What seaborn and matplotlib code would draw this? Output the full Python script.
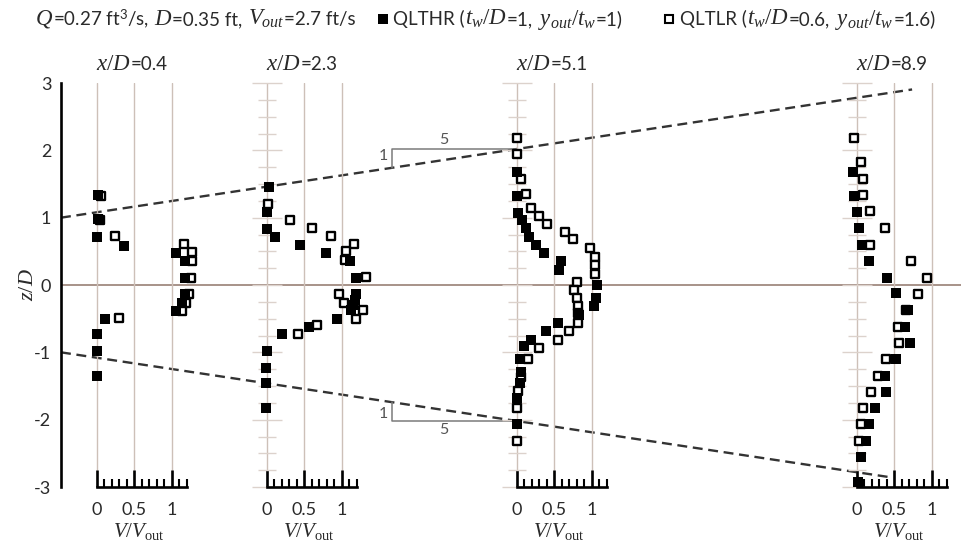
import matplotlib
matplotlib.use("Agg")
import matplotlib.pyplot as plt
import numpy as np
import pandas as pd
import seaborn as sns
from matplotlib.ticker import MultipleLocator, FixedLocator, NullLocator
from matplotlib.lines import Line2D

# ---------------------------------------------------------------- data
stations = [0.4, 2.3, 5.1, 8.9]          # x/D of each velocity profile
station_labels = ["0.4", "2.3", "5.1", "8.9"]

# QLTHR (filled squares): z/D and V/Vout per station
thr_z_04 = [1.34, 0.98, 0.72, 0.58, 0.48, 0.36, 0.11, -0.13, -0.26, -0.38, -0.50, -0.73, -0.98, -1.35]
thr_v_04 = [0.02, 0.02, 0.00, 0.36, 1.06, 1.17, 1.17, 1.18, 1.13, 1.05, 0.11, 0.00, 0.00, 0.00]

thr_z_23 = [1.46, 1.09, 0.83, 0.72, 0.59, 0.48, 0.36, 0.11, -0.13, -0.23, -0.30, -0.37,
            -0.50, -0.62, -0.73, -0.98, -1.23, -1.46, -1.82]
thr_v_23 = [0.03, 0.00, 0.00, 0.11, 0.45, 0.79, 1.11, 1.19, 1.19, 1.18, 1.15, 1.12,
            0.94, 0.56, 0.20, 0.00, -0.01, -0.01, -0.01]

thr_z_51 = [1.68, 1.32, 1.07, 0.97, 0.84, 0.72, 0.59, 0.47, 0.36, 0.23, 0.00, -0.20, -0.31,
            -0.44, -0.56, -0.68, -0.81, -0.91, -1.10, -1.29, -1.46, -1.68, -2.07]
thr_v_51 = [0.00, 0.00, 0.02, 0.07, 0.12, 0.16, 0.26, 0.36, 0.59, 0.56, 1.07, 1.06, 1.03,
            0.83, 0.55, 0.39, 0.19, 0.10, 0.04, 0.06, 0.04, 0.00, 0.00]

thr_z_89 = [1.68, 1.32, 1.08, 0.85, 0.60, 0.36, 0.11, -0.12, -0.37, -0.62, -0.86, -1.10,
            -1.35, -1.59, -1.82, -2.07, -2.31, -2.56, -2.92]
thr_v_89 = [-0.05, -0.03, 0.01, 0.03, 0.07, 0.17, 0.41, 0.53, 0.68, 0.65, 0.71, 0.52,
            0.38, 0.39, 0.25, 0.17, 0.13, 0.06, 0.02]

# QLTLR (open squares)
tlr_z_04 = [1.32, 0.97, 0.73, 0.61, 0.49, 0.36, 0.11, -0.13, -0.26, -0.38, -0.49]
tlr_v_04 = [0.05, 0.04, 0.24, 1.16, 1.27, 1.27, 1.25, 1.23, 1.19, 1.14, 0.30]

tlr_z_23 = [1.21, 0.97, 0.84, 0.73, 0.61, 0.50, 0.37, 0.12, -0.13, -0.26, -0.37, -0.50, -0.60, -0.73]
tlr_v_23 = [0.02, 0.31, 0.60, 0.86, 1.17, 1.06, 1.04, 1.32, 0.97, 1.03, 1.29, 1.19, 0.67, 0.42]

tlr_z_51 = [2.19, 1.95, 1.57, 1.35, 1.15, 1.03, 0.91, 0.78, 0.68, 0.55, 0.42, 0.30, 0.17, 0.05,
            -0.08, -0.20, -0.31, -0.42, -0.56, -0.68, -0.81, -0.93, -1.10, -1.36, -1.58, -1.82, -2.32]
tlr_v_51 = [0.00, 0.00, 0.06, 0.12, 0.19, 0.29, 0.40, 0.64, 0.75, 0.97, 1.04, 1.04, 1.04, 0.80,
            0.76, 0.80, 0.81, 0.82, 0.81, 0.70, 0.55, 0.30, 0.15, 0.05, 0.02, 0.00, 0.00]

tlr_z_89 = [2.18, 1.82, 1.58, 1.33, 1.10, 0.85, 0.60, 0.36, 0.11, -0.13, -0.37, -0.62, -0.86,
            -1.10, -1.35, -1.59, -1.82, -2.07, -2.31]
tlr_v_89 = [-0.04, 0.06, 0.08, 0.09, 0.18, 0.38, 0.18, 0.73, 0.94, 0.82, 0.66, 0.55, 0.57,
            0.39, 0.28, 0.19, 0.08, 0.06, 0.03]

thr_z = [thr_z_04, thr_z_23, thr_z_51, thr_z_89]
thr_v = [thr_v_04, thr_v_23, thr_v_51, thr_v_89]
tlr_z = [tlr_z_04, tlr_z_23, tlr_z_51, tlr_z_89]
tlr_v = [tlr_v_04, tlr_v_23, tlr_v_51, tlr_v_89]

# jet spreading lines z/D = +-(1 + x/D / 5)
spread_slope = 1 / 5
spread_z0 = 1.0
spread_end_top = 9.52
spread_end_bot = 9.3
tri_run = 1.4                # horizontal leg of the 1:5 slope triangles

# ---------------------------------------------------------------- style
sns.set_theme(style="white")
plt.rcParams["font.family"] = ["Lato", "DejaVu Sans"]
plt.rcParams["mathtext.fontset"] = "custom"
plt.rcParams["mathtext.rm"] = "Liberation Serif"
plt.rcParams["mathtext.it"] = "Liberation Serif:italic"
plt.rcParams["mathtext.sf"] = "Lato"
plt.rcParams["axes.unicode_minus"] = False

TXT = "#2a2a2a"
SANS, SERIF = 13.5, 16.5

W, H = 962, 548
fig = plt.figure(figsize=(W / 100, H / 100), dpi=100)
fig.patch.set_facecolor("white")
renderer = fig.canvas.get_renderer()


def box(x0, y0, x1, y1):
    """Axes rectangle from pixel edges (y measured from the top)."""
    return [x0 / W, 1 - y1 / H, (x1 - x0) / W, (y1 - y0) / H]


def run_text(x_px, base_px, runs, ha="left"):
    """Lay out (text, size, trailing_space) runs on one baseline."""
    arts, widths = [], []
    for s, size, space in runs:
        t = fig.text(0, 1 - base_px / H, s, fontsize=size, va="baseline",
                     ha="left", color=TXT)
        w = t.get_window_extent(renderer).width
        if space:
            w += 0.26 * size * 100 / 72
        arts.append(t)
        widths.append(w)
    total = sum(widths)
    x = x_px - total / 2 if ha == "center" else x_px
    for t, w in zip(arts, widths):
        t.set_x(x / W)
        x += w
    return x


X0_PX, XD_PX = 61, 89.4          # x/D = 0 position and pixels per x/D unit
V_PX = 75.0                      # pixels per unit of V/Vout in each profile
TOP_PX, BOT_PX = 83, 487
XMAX = (W - X0_PX) / XD_PX

ax = fig.add_axes(box(X0_PX, TOP_PX, W, BOT_PX))
ax.set_xlim(0, XMAX)
ax.set_ylim(-3, 3)
ax.patch.set_alpha(0)
for s in ["top", "right", "bottom"]:
    ax.spines[s].set_visible(False)
ax.spines["left"].set_linewidth(1.9)
ax.spines["left"].set_color("black")
ax.xaxis.set_major_locator(NullLocator())
ax.yaxis.set_major_locator(MultipleLocator(1))
ax.yaxis.set_minor_locator(MultipleLocator(0.25))
ax.tick_params(axis="y", which="major", direction="in", length=12, width=1.9,
               color="black", labelsize=13, pad=7, labelcolor=TXT)
ax.tick_params(axis="y", which="minor", direction="in", length=5.5, width=1.9, color="black")
ax.yaxis.set_major_formatter(matplotlib.ticker.FuncFormatter(lambda v, p: f"{v:.0f}"))

# zero line
ax.axhline(0, color="#a08a80", lw=1.3, zorder=1)

# spreading lines
dash_style = dict(color="#333333", lw=1.7, dashes=(4.2, 2.4), zorder=2, clip_on=False)
ax.plot([0, spread_end_top], [spread_z0, spread_z0 + spread_slope * spread_end_top], **dash_style)
ax.plot([0, spread_end_bot], [-spread_z0, -spread_z0 - spread_slope * spread_end_bot], **dash_style)

# 1:5 slope triangles at x/D = 5.1
tx1 = stations[2]
tx0 = tx1 - tri_run
for sgn in (1, -1):
    z_a = sgn * (spread_z0 + spread_slope * tx0)
    z_b = sgn * (spread_z0 + spread_slope * tx1)
    ax.plot([tx0, tx0, tx1], [z_a, z_b, z_b], color="#7a7a7a", lw=1.1, zorder=2)
    ax.text(tx0 - 0.04, (z_a + z_b) / 2 + sgn * 0.04, "1", ha="right", va="center",
            fontsize=11.5, color="#555555")
    ax.text((tx0 + tx1) / 2 - 0.12, z_b + sgn * 0.03, "5", ha="center",
            va="bottom" if sgn > 0 else "top", fontsize=11.5, color="#555555")

# ---------------------------------------------------------------- profiles
minor_v = [round(0.1 * i, 1) for i in range(1, 13) if i not in (5, 10)]
for i, (xd, lab) in enumerate(zip(stations, station_labels)):
    x0 = X0_PX + XD_PX * xd
    left, right = x0 - 24, x0 + 104
    pax = fig.add_axes(box(left, TOP_PX, right, BOT_PX))
    pax.set_xlim(-24 / V_PX, 104 / V_PX)
    pax.set_ylim(-3, 3)
    pax.patch.set_alpha(0)
    for s in ["top", "right", "left"]:
        pax.spines[s].set_visible(False)
    pax.spines["bottom"].set_bounds(0, 1.2)
    pax.spines["bottom"].set_linewidth(1.9)
    pax.spines["bottom"].set_color("black")
    pax.set_xticks([0, 0.5, 1])
    pax.set_xticklabels(["0", "0.5", "1"])
    pax.xaxis.set_minor_locator(FixedLocator(minor_v))
    pax.tick_params(axis="x", which="major", direction="in", length=12, width=1.9,
                    color="black", labelsize=13, pad=11, labelcolor=TXT, bottom=True)
    pax.tick_params(axis="x", which="minor", direction="in", length=5.5, width=1.5,
                    color="black", bottom=True)
    pax.grid(axis="x", which="major", color="#cdc0b8", lw=1.0)
    pax.set_axisbelow(True)

    if i > 0:
        pax.spines["left"].set_position(("data", 0))
        pax.yaxis.set_major_locator(MultipleLocator(1))
        pax.yaxis.set_minor_locator(MultipleLocator(0.25))
        pax.tick_params(axis="y", which="major", direction="inout", length=22, width=1.0,
                        color="#dcd2cc", labelleft=False, left=True)
        pax.tick_params(axis="y", which="minor", direction="inout", length=13, width=1.0,
                        color="#dcd2cc", labelleft=False, left=True)
    else:
        pax.yaxis.set_major_locator(NullLocator())

    df_open = pd.DataFrame({"V": tlr_v[i], "z": tlr_z[i]})
    df_fill = pd.DataFrame({"V": thr_v[i], "z": thr_z[i]})
    sns.scatterplot(data=df_open, x="V", y="z", marker="s", s=40, color="white",
                    edgecolor="black", linewidth=1.7, ax=pax, clip_on=False,
                    zorder=4, legend=False)
    sns.scatterplot(data=df_fill, x="V", y="z", marker="s", s=58, color="black",
                    linewidth=0, ax=pax, clip_on=False, zorder=5, legend=False)
    pax.set_ylabel("")
    pax.set_xlabel(r"$V/V_{\mathrm{out}}$", fontsize=15, color=TXT)
    pax.xaxis.set_label_coords((0.56 * V_PX + 24) / 128, -0.085)

    run_text(x0 + 35, 70, [(r"$x/D$", SERIF, False), ("=" + lab, SANS, False)], ha="center")

# ---------------------------------------------------------------- header
base = 25
run_text(35, base, [(r"$Q$", SERIF, False), (r"=0.27 ft$^{\mathsf{3}}$/s,", SANS, True),
                    (r"$D$", SERIF, False), ("=0.35 ft,", SANS, True),
                    (r"$V_{out}$", SERIF, False), ("=2.7 ft/s", SANS, False)])
fig.add_artist(Line2D([383 / W], [1 - 19 / H], marker="s", ms=7.5, color="black",
                      mew=0, transform=fig.transFigure))
run_text(393, base, [("QLTHR (", SANS, False), (r"$t_w/D$", SERIF, False), ("=1,", SANS, True),
                     (r"$y_{out}/t_w$", SERIF, False), ("=1)", SANS, False)])
fig.add_artist(Line2D([669 / W], [1 - 19 / H], marker="s", ms=6.3, mfc="white",
                      mec="black", mew=1.5, transform=fig.transFigure))
run_text(680, base, [("QLTLR (", SANS, False), (r"$t_w/D$", SERIF, False), ("=0.6,", SANS, True),
                     (r"$y_{out}/t_w$", SERIF, False), ("=1.6)", SANS, False)])

fig.text(27 / W, 1 - 285 / H, r"$z/D$", rotation=90, ha="center", va="center",
         fontsize=16, color=TXT)

fig.savefig("out.png", dpi=100, facecolor="white")
